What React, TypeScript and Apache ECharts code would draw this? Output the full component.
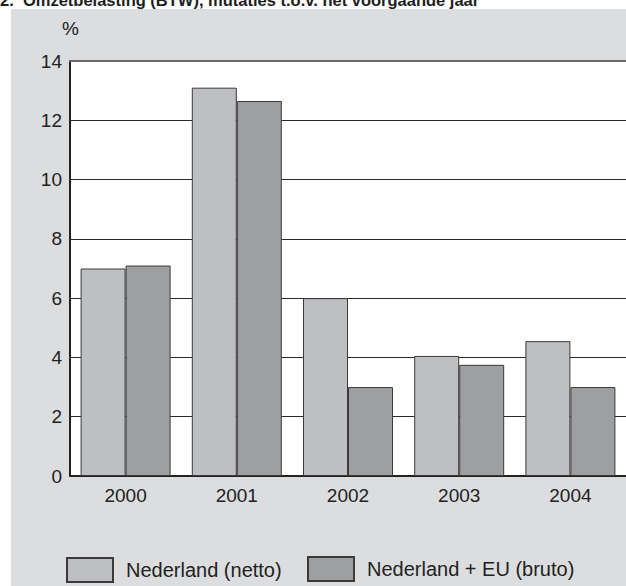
import React, { useEffect, useRef } from "react";
import * as echarts from "echarts";

const title = "2.  Omzetbelasting (BTW), mutaties t.o.v. het voorgaande jaar";
const unitLabel = "%";
const categories = ["2000", "2001", "2002", "2003", "2004"];
const seriesNames = ["Nederland (netto)", "Nederland + EU (bruto)"];
const netto = [7.0, 13.1, 6.0, 4.05, 4.55];
const bruto = [7.1, 12.65, 3.0, 3.75, 3.0];

const FONT = '"Liberation Sans", Arial, Helvetica, sans-serif';

export default function App() {
  const ref = useRef<HTMLDivElement>(null);
  useEffect(() => {
    if (!ref.current) return;
    const chart = echarts.init(ref.current, undefined, { renderer: "svg" });
    chart.setOption({
      animation: false,
      textStyle: { fontFamily: FONT },
      graphic: [
        {
          type: "text",
          x: 0,
          y: 0,
          style: {
            text: title,
            font: `bold 16.5px ${FONT}`,
            fill: "#1e1e1e",
            verticalAlign: "middle",
          },
        },
        {
          type: "text",
          x: 62,
          y: 28,
          style: {
            text: unitLabel,
            font: `19px ${FONT}`,
            fill: "#222",
            verticalAlign: "middle",
          },
        },
      ],
      grid: {
        left: 70,
        right: -1,
        top: 61,
        bottom: 110,
        show: true,
        backgroundColor: "#ffffff",
        borderWidth: 0,
      },
      legend: [
        {
          data: [seriesNames[0]],
          left: 66,
          top: 557,
          padding: 0,
          icon: "rect",
          itemWidth: 46,
          itemHeight: 24,
          textStyle: { fontSize: 20, color: "#222", padding: [4, 0, 0, 8] },
        },
        {
          data: [seriesNames[1]],
          left: 307,
          top: 556,
          padding: 0,
          icon: "rect",
          itemWidth: 46,
          itemHeight: 24,
          textStyle: { fontSize: 20, color: "#222", padding: [4, 0, 0, 8] },
        },
      ],
      xAxis: [
        {
          type: "category",
          data: categories,
          axisTick: { show: false },
          axisLine: { show: true, lineStyle: { color: "#222", width: 2 } },
          axisLabel: { fontSize: 19, color: "#222", margin: 10 },
        },
        {
          type: "category",
          data: categories,
          position: "top",
          axisTick: { show: false },
          axisLabel: { show: false },
          axisLine: { show: true, lineStyle: { color: "#6a6a6a", width: 2 } },
        },
      ],
      yAxis: {
        type: "value",
        min: 0,
        max: 14,
        interval: 2,
        axisLine: { show: true, lineStyle: { color: "#222", width: 2 } },
        axisTick: { show: false },
        axisLabel: { fontSize: 19, color: "#222", margin: 8 },
        splitLine: { show: true, lineStyle: { color: "#2a2a2a", width: 1 } },
      },
      series: [
        {
          name: seriesNames[0],
          type: "bar",
          data: netto,
          barWidth: 45,
          barGap: "0%",
          itemStyle: { color: "#bebfc3", borderColor: "#3a3a3a", borderWidth: 1 },
        },
        {
          name: seriesNames[1],
          type: "bar",
          data: bruto,
          barWidth: 45,
          barGap: "0%",
          itemStyle: { color: "#9e9fa1", borderColor: "#3a3a3a", borderWidth: 1 },
        },
      ],
    });
    return () => chart.dispose();
  }, []);

  return (
    <div style={{ position: "absolute", left: 0, top: 0, width: 626, height: 586, background: "#fff", overflow: "hidden" }}>
      <div style={{ position: "absolute", left: 11, top: 9, right: 0, bottom: 0, background: "#dcdddf" }} />
      <div ref={ref} style={{ position: "absolute", left: 0, top: 0, width: 626, height: 586 }} />
    </div>
  );
}
